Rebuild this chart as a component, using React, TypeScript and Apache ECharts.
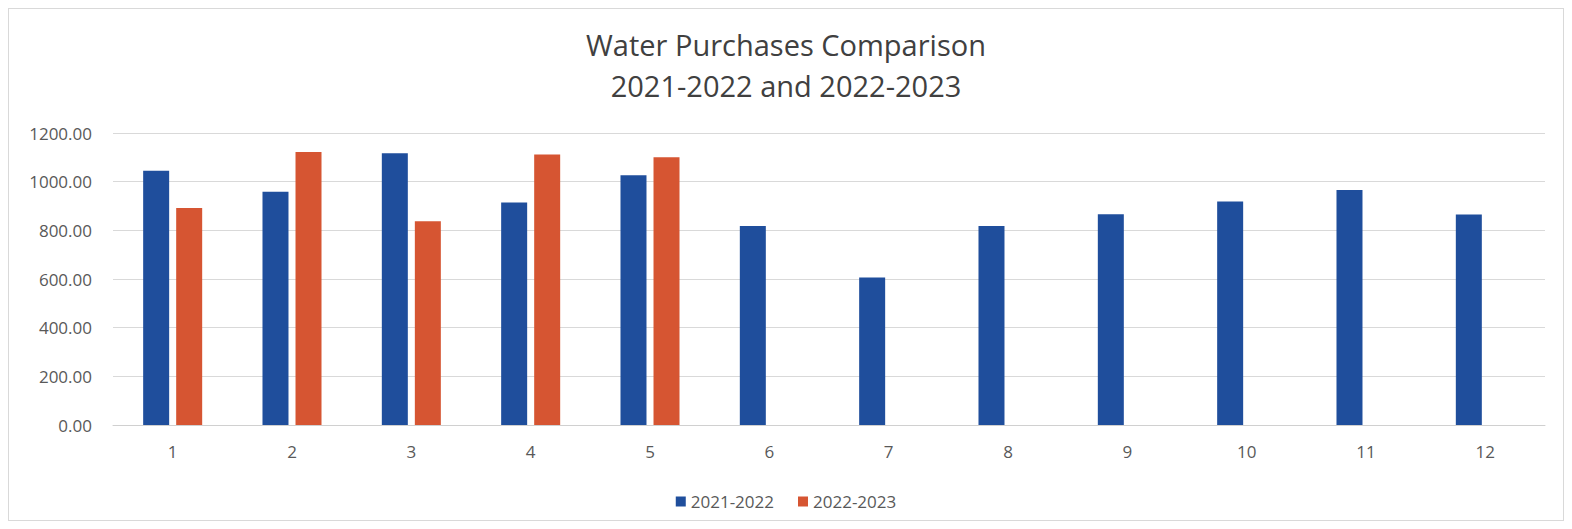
import React, { useEffect, useRef } from "react";
import * as echarts from "echarts";

const categories = ["1", "2", "3", "4", "5", "6", "7", "8", "9", "10", "11", "12"];
const series2122 = [1045, 959, 1117, 914, 1026, 818, 606, 818, 866, 918, 966, 865];
const series2223: (number | null)[] = [892, 1122, 837, 1112, 1100, null, null, null, null, null, null, null];
const yTicks = [0, 200, 400, 600, 800, 1000, 1200];

export default function App() {
  const ref = useRef<HTMLDivElement>(null);
  useEffect(() => {
    if (!ref.current) return;
    const chart = echarts.init(ref.current, undefined, { renderer: "svg" });
    const font = "'Open Sans', 'Noto Sans', sans-serif";
    chart.setOption({
      animation: false,
      backgroundColor: "#ffffff",
      title: {
        text: "Water Purchases Comparison\n2021-2022 and 2022-2023",
        left: "center",
        top: 10,
        textStyle: {
          fontFamily: font,
          fontSize: 29,
          fontWeight: "normal",
          color: "#404040",
          lineHeight: 41,
        },
      },
      legend: {
        bottom: 5,
        left: "center",
        itemWidth: 10,
        itemHeight: 10,
        itemGap: 24,
        icon: "rect",
        textStyle: { fontFamily: font, fontSize: 17, color: "#595959" },
        data: ["2021-2022", "2022-2023"],
      },
      grid: { left: 104, right: 18, top: 124, bottom: 95, containLabel: false },
      xAxis: {
        type: "category",
        data: categories,
        axisLine: { lineStyle: { color: "#d0d0d0" } },
        axisTick: { show: false },
        axisLabel: { fontFamily: font, fontSize: 17, color: "#595959", margin: 18 },
      },
      yAxis: {
        type: "value",
        min: yTicks[0],
        max: yTicks[yTicks.length - 1],
        interval: 200,
        axisLine: { show: false },
        axisTick: { show: false },
        splitLine: { lineStyle: { color: "#d9d9d9" } },
        axisLabel: {
          fontFamily: font,
          fontSize: 17,
          color: "#595959",
          margin: 21,
          formatter: (v: number) => v.toFixed(2),
        },
      },
      series: [
        {
          name: "2021-2022",
          type: "bar",
          data: series2122,
          barWidth: 26,
          barGap: "27%",
          itemStyle: { color: "#1F4E9C" },
        },
        {
          name: "2022-2023",
          type: "bar",
          data: series2223,
          barWidth: 26,
          itemStyle: { color: "#D65532" },
        },
      ],
    });
    return () => chart.dispose();
  }, []);
  return (
    <div
      style={{
        width: 1556,
        height: 513,
        border: "1px solid #d9d9d9",
        boxSizing: "border-box",
      }}
    >
      <div ref={ref} style={{ width: "100%", height: "100%" }} />
    </div>
  );
}
